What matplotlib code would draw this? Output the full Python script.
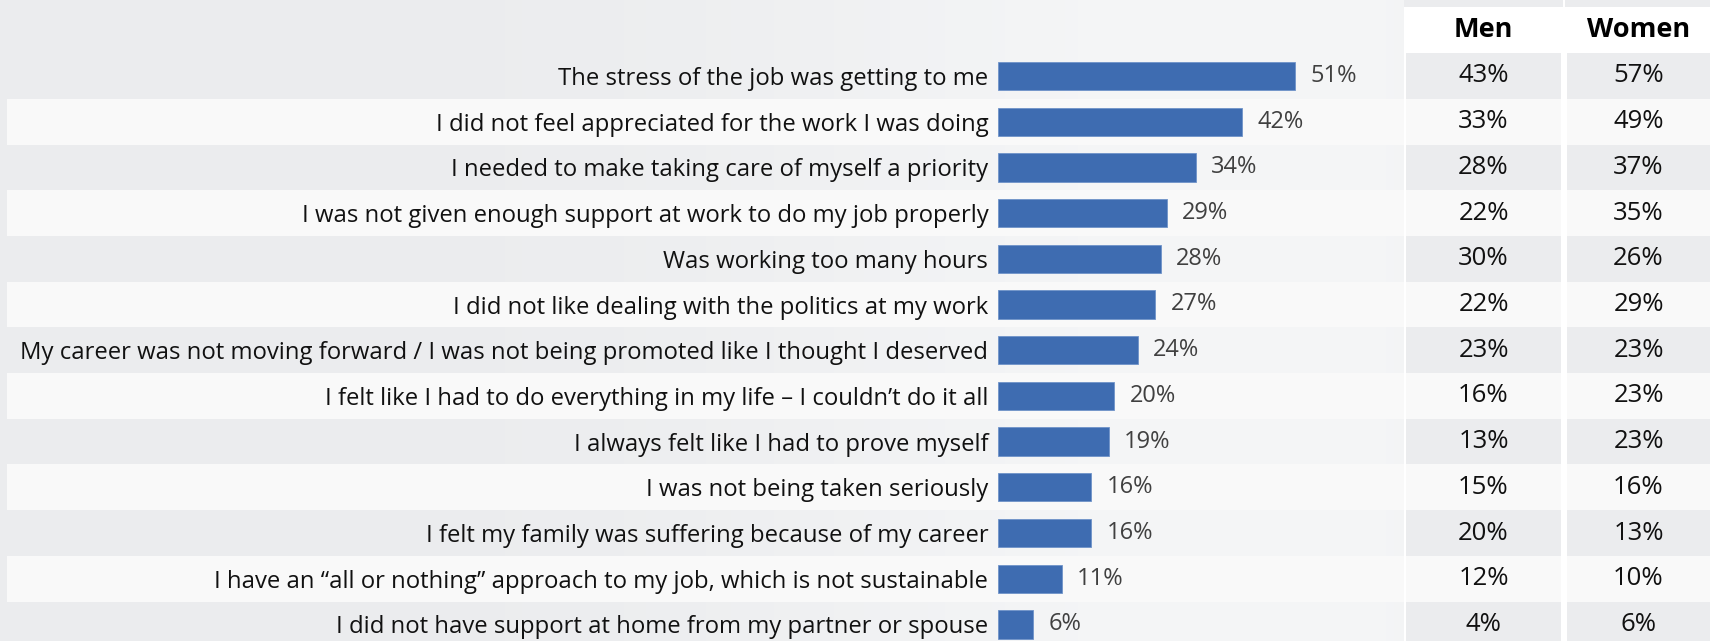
import matplotlib.pyplot as plt
import numpy as np

plt.rcParams['font.family'] = ['Open Sans', 'DejaVu Sans']

reasons = [
    'The stress of the job was getting to me',
    'I did not feel appreciated for the work I was doing',
    'I needed to make taking care of myself a priority',
    'I was not given enough support at work to do my job properly',
    'Was working too many hours',
    'I did not like dealing with the politics at my work',
    'My career was not moving forward / I was not being promoted like I thought I deserved',
    'I felt like I had to do everything in my life \u2013 I couldn\u2019t do it all',
    'I always felt like I had to prove myself',
    'I was not being taken seriously',
    'I felt my family was suffering because of my career',
    'I have an \u201call or nothing\u201d approach to my job, which is not sustainable',
    'I did not have support at home from my partner or spouse',
]
total = [51, 42, 34, 29, 28, 27, 24, 20, 19, 16, 16, 11, 6]
men = [43, 33, 28, 22, 30, 22, 23, 16, 13, 15, 20, 12, 4]
women = [57, 49, 37, 35, 26, 29, 23, 23, 23, 16, 13, 10, 6]

BAR = '#3e6cb1'
BG = '#ebecee'
STRIPE = '#f9f9f9'

W, H = 1710, 641
ROW_H = 45.7
ROW0 = 76.0
y_top = -ROW0 / ROW_H
y_bot = (H - ROW0) / ROW_H

fig = plt.figure(figsize=(W / 100, H / 100), dpi=100)

# background layer: x in pixels, y in row units
bg = fig.add_axes([0, 0, 1, 1])
bg.set_xlim(0, W)
bg.set_ylim(y_bot, y_top)
bg.axis('off')

xs = np.linspace(0, 1, 400)
shade = np.exp(-((xs - 0.72) / 0.28) ** 2)
c0 = np.array([0xeb, 0xec, 0xee]) / 255
c1 = np.array([0xf5, 0xf6, 0xf7]) / 255
grad = c0[None, None, :] + (c1 - c0)[None, None, :] * shade[None, :, None]
bg.imshow(np.repeat(grad, 2, axis=0), extent=[0, W, y_bot, y_top], aspect='auto', zorder=0)

n = len(reasons)
for i in range(n):
    if i % 2 == 1:
        bg.fill_between([7, 1404], i - 0.5, i + 0.5, color=STRIPE, lw=0, zorder=1)

# Men / Women columns
cols = [(1406, 1561), (1567, W)]
bg.fill_between([1404, 1563], y_top, y_bot, color='white', lw=0, zorder=1)
bg.fill_between([1563, W], y_top, y_bot, color='white', lw=0, zorder=1)
head_top = y_top + 7 / ROW_H
head_bot = y_top + 53 / ROW_H
for (x0, x1), name, vals in zip(cols, ['Men', 'Women'], [men, women]):
    bg.fill_between([x0 - 2, x1 + 2], y_top, head_top, color=BG, lw=0, zorder=2)
    bg.text((x0 + x1) / 2, (head_top + head_bot) / 2, name, ha='center', va='center',
            fontsize=19.5, fontweight='bold', color='black', zorder=4)
    for i, v in enumerate(vals):
        cell = STRIPE if i % 2 == 1 else BG
        bg.fill_between([x0, x1], i - 0.5, i + 0.5, color=cell, lw=0, zorder=2)
        bg.text((x0 + x1) / 2, i, f'{v}%', ha='center', va='center',
                fontsize=18.5, color='#111111', zorder=4)

# bars
ax = fig.add_axes([998 / W, 0, (1404 - 998) / W, 1])
ax.patch.set_alpha(0)
y = np.arange(n)
ax.barh(y, total, height=0.62, color=BAR, edgecolor='#6f93c9', linewidth=0.6, zorder=3)
for yi, v in zip(y, total):
    ax.annotate(f'{v}%', xy=(v, yi), xytext=(11, 0), textcoords='offset points',
                ha='left', va='center', fontsize=17, color='#404040')
ax.set_xlim(0, 406 / 5.82)
ax.set_ylim(y_bot, y_top)
ax.set_yticks(y)
ax.set_yticklabels(reasons, fontsize=17.2, color='#111111')
ax.tick_params(axis='y', length=0, pad=7)
ax.set_xticks([])
for s in ax.spines.values():
    s.set_visible(False)

plt.savefig('out.png', dpi=100)
